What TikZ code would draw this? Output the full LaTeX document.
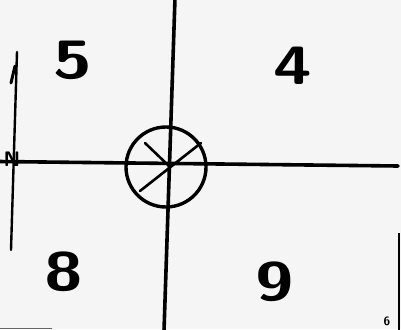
\documentclass[tikz,border=0pt]{standalone}
\usepackage{tikz}
\usetikzlibrary{positioning,calc}

\begin{document}
\begin{tikzpicture}[
    x=1pt, y=-1pt,
    axis/.style={draw=black, line width=3.6pt, line cap=round},
    north/.style={draw=black, line width=2.4pt, line cap=round},
    hub/.style={circle, draw=black, line width=3.4pt, minimum size=80pt, inner sep=0pt},
    spoke/.style={draw=black, line width=2.6pt, line cap=round},
    num/.style={font=\sffamily\bfseries\fontsize{54}{54}\selectfont, inner sep=0pt, xscale=1.3, transform shape},
    tag/.style={font=\sffamily\bfseries\fontsize{21}{21}\selectfont, inner sep=0pt}
]
\clip (0,0) rectangle (401,329);
\fill[black!4] (0,0) rectangle (401,329);
% axes and central fitting
\coordinate (top) at (175,-2);
\coordinate (bot) at (164,331);
\coordinate (west) at (-2,161.5);
\coordinate (east) at (398,166);
\node[hub] (c) at (166,167) {};
\draw[axis] (top)--(bot);
\draw[axis] (west)--(east);
\draw[spoke] (c.center)++(-21,-24) coordinate (s1) -- ($(c.center)+(3,-1)$);
\draw[spoke] ($(c.center)+(35,-24)$) coordinate (s2) -- ($(c.center)+(-26,24)$) coordinate (s3);
% quadrant numbers
\node[num] (n5) at (73,60) {5};
\node[num] (n4) at (293,66) {4};
\node[num] (n8) at (64,272) {8};
\node[num] (n9) at (275,282) {9};
% north marker
\coordinate (ntop) at (17,52);
\coordinate (nbot) at (11,250);
\draw[north] (nbot)--(ntop);
\draw[north, line width=3pt] (11,83)--(15,66);
\node[tag] (nn) at (12,159) {N};
% page edge
\coordinate (etop) at (399,233);
\coordinate (ebot) at (399,331);
\draw[black, line width=2.4pt] (etop)--(ebot);
\node[tag, font=\sffamily\bfseries\fontsize{12}{12}\selectfont] (pg) at (387,321) {6};
\draw[black!60, line width=1pt] (0,328.5)--(52,328.5);
\end{tikzpicture}
\end{document}
